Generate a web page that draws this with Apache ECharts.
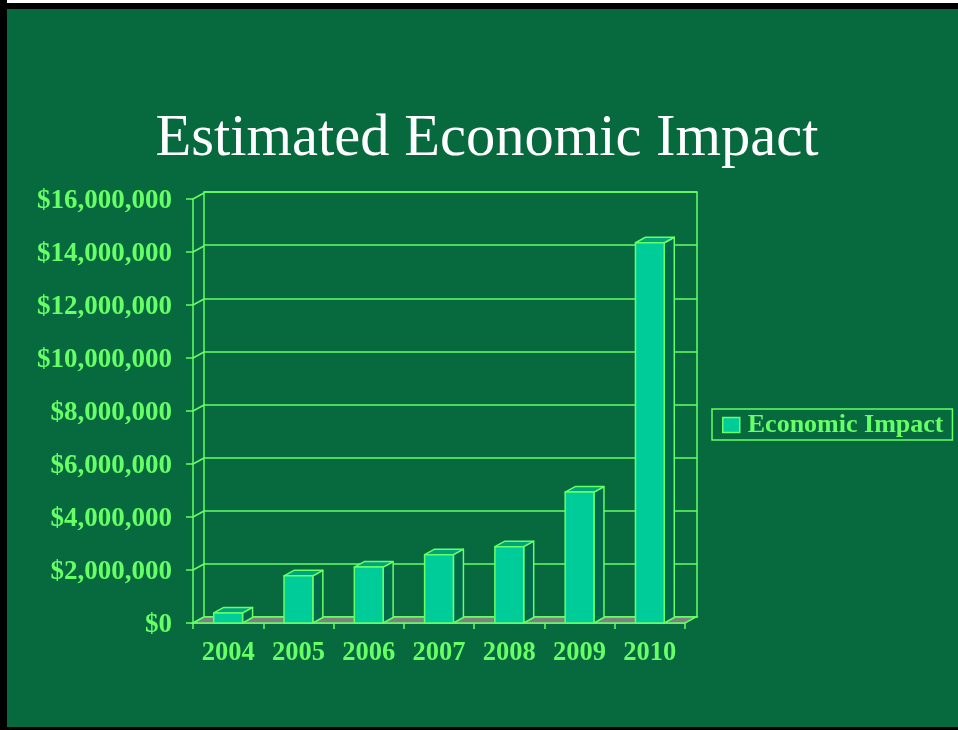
<!DOCTYPE html>
<html>
<head>
<meta charset="utf-8">
<script src="https://cdn.jsdelivr.net/npm/echarts@6/dist/echarts.min.js"></script>
<style>
html,body{margin:0;padding:0;background:#000;}
#chart{width:958px;height:730px;}
</style>
</head>
<body>
<div id="chart"></div>
<script>
// ---- data ----
const years = ['2004', '2005', '2006', '2007', '2008', '2009', '2010'];
const impact = [380000, 1780000, 2110000, 2580000, 2880000, 4940000, 14350000];
const yTicks = [0, 2000000, 4000000, 6000000, 8000000, 10000000, 12000000, 14000000, 16000000];
const seriesName = 'Economic Impact';
const titleText = 'Estimated Economic Impact';

// ---- style ----
const GREEN_LINE = '#66ff66';
const BG = '#076a3e';
const FRONT = '#00cc99';
const TOP = '#00a67a';
const SIDE = '#006a4a';
const FLOOR = '#808080';
const SERIF = '"Liberation Serif","Times New Roman",serif';
const DX = 11, DY = -6;      // wall depth
const BDX = 10, BDY = -5.5;  // bar depth

const fmt = v => '$' + Number(v).toLocaleString('en-US');

const chart = echarts.init(document.getElementById('chart'));

const option = {
  backgroundColor: BG,
  animation: false,
  title: {show: false},
  grid: [
    {left: 193, top: 199, width: 492, height: 424},   // front plane
    {left: 204, top: 192, width: 493, height: 425, show: true, borderColor: GREEN_LINE, borderWidth: 1.5, backgroundColor: 'transparent'} // back wall
  ],
  xAxis: [
    {
      type: 'category', gridIndex: 0, data: years, boundaryGap: true,
      axisLine: {show: true, lineStyle: {color: GREEN_LINE, width: 1.5}},
      axisTick: {show: true, length: 6, alignWithLabel: false, lineStyle: {color: GREEN_LINE, width: 1.5}},
      axisLabel: {color: GREEN_LINE, fontFamily: SERIF, fontWeight: 'bold', fontSize: 26.5, margin: 17},
      splitLine: {show: false}
    },
    {
      type: 'category', gridIndex: 1, data: years, boundaryGap: true,
      axisLine: {show: false}, axisTick: {show: false}, axisLabel: {show: false}, splitLine: {show: false}
    }
  ],
  yAxis: [
    {
      type: 'value', gridIndex: 0, min: 0, max: 16000000, interval: 2000000,
      axisLine: {show: true, lineStyle: {color: GREEN_LINE, width: 1.5}},
      axisTick: {show: true, length: 7, lineStyle: {color: GREEN_LINE, width: 1.5}},
      axisLabel: {color: GREEN_LINE, fontFamily: SERIF, fontWeight: 'bold', fontSize: 27, margin: 21,
        verticalAlign: 'top', lineHeight: 5, formatter: fmt},
      splitLine: {show: false}
    },
    {
      type: 'value', gridIndex: 1, min: 0, max: 16000000, interval: 2000000,
      axisLine: {show: false}, axisTick: {show: false}, axisLabel: {show: false},
      splitLine: {show: true, lineStyle: {color: GREEN_LINE, width: 1.5}}
    }
  ],
  legend: {
    data: [seriesName],
    left: 712, top: 409,
    orient: 'vertical',
    backgroundColor: 'transparent',
    borderColor: GREEN_LINE, borderWidth: 1.5,
    padding: [3, 9, 2, 10],
    itemWidth: 17, itemHeight: 15,
    icon: 'rect',
    itemStyle: {color: FRONT, borderColor: GREEN_LINE, borderWidth: 1.5},
    textStyle: {color: GREEN_LINE, fontFamily: SERIF, fontWeight: 'bold', fontSize: 26, padding: [0, 0, 0, 3]}
  },
  graphic: [
    {type: 'text', x: 487, y: 110, z: 10,
      style: {text: titleText, fill: '#ffffff', font: '58.5px ' + SERIF, textAlign: 'center'}},
    {type: 'rect', shape: {x: 0, y: 0, width: 958, height: 3}, style: {fill: '#ffffff'}, z: 20, silent: true},
    {type: 'rect', shape: {x: 0, y: 3, width: 958, height: 6}, style: {fill: '#000000'}, z: 20, silent: true},
    {type: 'rect', shape: {x: 0, y: 0, width: 7, height: 730}, style: {fill: '#000000'}, z: 20, silent: true},
    {type: 'rect', shape: {x: 0, y: 727, width: 958, height: 3}, style: {fill: '#000000'}, z: 20, silent: true}
  ],
  series: [
    // left wall diagonals at each tick
    {
      type: 'custom', name: 'wall', coordinateSystem: 'cartesian2d', xAxisIndex: 0, yAxisIndex: 0, z: 1,
      data: yTicks.map(v => [0, v]),
      renderItem: function (params, api) {
        const p = api.coord([0, api.value(1)]);
        const half = api.size([1, 0])[0] / 2;
        const x0 = p[0] - half;
        return {type: 'line', shape: {x1: x0, y1: p[1], x2: x0 + DX, y2: p[1] + DY},
          style: {stroke: GREEN_LINE, lineWidth: 1.5}};
      }
    },
    // floor
    {
      type: 'custom', name: 'floor', coordinateSystem: 'cartesian2d', xAxisIndex: 0, yAxisIndex: 0, z: 2,
      data: [[0, 0]],
      renderItem: function (params, api) {
        const half = api.size([1, 0])[0] / 2;
        const a = api.coord([0, 0]);
        const b = api.coord([years.length - 1, 0]);
        const xl = a[0] - half, xr = b[0] + half, y = a[1];
        return {type: 'polygon', shape: {points: [[xl, y], [xr, y], [xr + DX, y + DY], [xl + DX, y + DY]]},
          style: {fill: FLOOR, stroke: GREEN_LINE, lineWidth: 1.5}};
      }
    },
    // 3D bars
    {
      type: 'custom', name: seriesName, coordinateSystem: 'cartesian2d', xAxisIndex: 0, yAxisIndex: 0, z: 3,
      itemStyle: {color: FRONT, borderColor: GREEN_LINE},
      data: impact.map((v, i) => [i, v]),
      renderItem: function (params, api) {
        const i = api.value(0), v = api.value(1);
        const t = api.coord([i, v]);
        const b = api.coord([i, 0]);
        const bw = api.size([1, 0])[0] * 0.41;
        const xl = t[0] - bw / 2, xr = t[0] + bw / 2;
        const ty = t[1], by = b[1];
        const st = {stroke: GREEN_LINE, lineWidth: 1.5, lineJoin: 'round'};
        return {
          type: 'group',
          children: [
            {type: 'polygon', shape: {points: [[xr, ty], [xr + BDX, ty + BDY], [xr + BDX, by + BDY], [xr, by]]},
              style: Object.assign({fill: SIDE}, st)},
            {type: 'polygon', shape: {points: [[xl, ty], [xr, ty], [xr + BDX, ty + BDY], [xl + BDX, ty + BDY]]},
              style: Object.assign({fill: TOP}, st)},
            {type: 'rect', shape: {x: xl, y: ty, width: bw, height: by - ty},
              style: Object.assign({fill: FRONT}, st)}
          ]
        };
      }
    }
  ]
};

chart.setOption(option);
</script>
</body>
</html>
